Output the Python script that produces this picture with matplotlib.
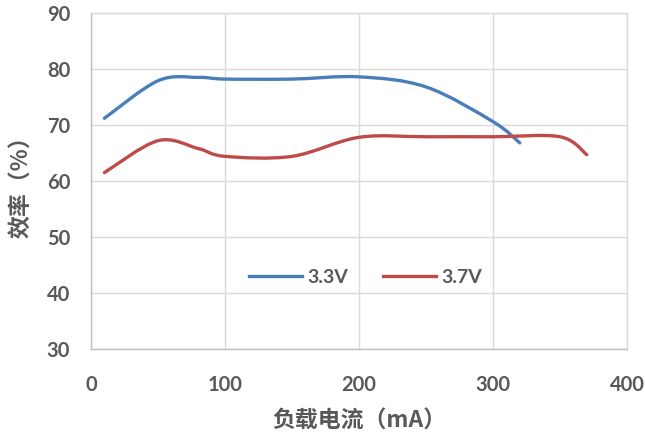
import numpy as np
import matplotlib
matplotlib.use("Agg")
import matplotlib.pyplot as plt
from matplotlib.path import Path
from matplotlib.patches import PathPatch
from matplotlib.lines import Line2D

plt.rcParams['font.family'] = ['Lato', 'Noto Sans CJK SC', 'DejaVu Sans']

# data
x_33 = [10, 50, 80, 100, 150, 200, 250, 300, 320]
y_33 = [71.2, 77.9, 78.5, 78.2, 78.2, 78.6, 76.8, 70.6, 66.8]
x_37 = [10, 50, 80, 100, 150, 200, 250, 300, 350, 370]
y_37 = [61.5, 67.2, 65.8, 64.4, 64.4, 67.8, 67.9, 67.9, 67.9, 64.7]
series_labels = ["3.3V", "3.7V"]
x_ticks = [0, 100, 200, 300, 400]
y_ticks = [30, 40, 50, 60, 70, 80, 90]
x_label = "负载电流（mA）"
y_label = "效率（%）"

blue = "#4A7EBB"
red = "#BE4B48"
txt = "#595959"

def smooth_path(xs, ys):
    p = np.column_stack([xs, ys]).astype(float)
    n = len(p)
    verts = [tuple(p[0])]
    codes = [Path.MOVETO]
    for i in range(n - 1):
        p0 = p[i - 1] if i > 0 else p[i]
        p1 = p[i]
        p2 = p[i + 1]
        p3 = p[i + 2] if i + 2 < n else p[i + 1]
        c1 = p1 + (p2 - p0) / 6.0
        c2 = p2 - (p3 - p1) / 6.0
        verts += [tuple(c1), tuple(c2), tuple(p2)]
        codes += [Path.CURVE4] * 3
    return Path(verts, codes)

fig = plt.figure(figsize=(6.45, 4.37), dpi=100)
ax = fig.add_axes([91/645, 1 - 349/437, (627-91)/645, (349-13)/437])

for xs, ys, c in [(x_33, y_33, blue), (x_37, y_37, red)]:
    patch = PathPatch(smooth_path(xs, ys), facecolor='none', edgecolor=c,
                      lw=2.4, capstyle='round', joinstyle='round', zorder=3)
    ax.add_patch(patch)

ax.set_xlim(0, 400)
ax.set_ylim(30, 90)
ax.set_xticks(x_ticks)
ax.set_yticks(y_ticks)
ax.grid(True, color="#D9D9D9", lw=1.0)
ax.set_axisbelow(True)
for s in ax.spines.values():
    s.set_color("#D9D9D9")
    s.set_linewidth(1.0)
ax.spines['bottom'].set_color("#BFBFBF")
ax.spines['left'].set_color("#BFBFBF")
ax.tick_params(length=0, labelsize=14.5, labelcolor=txt)
ax.tick_params(axis='y', pad=15)
ax.tick_params(axis='x', pad=19)
for lab in ax.get_xticklabels() + ax.get_yticklabels():
    lab.set_fontweight('bold')

ax.set_xlabel(x_label, fontsize=16.5, fontweight='bold', color=txt,
              family=['Noto Sans CJK SC', 'DejaVu Sans'], labelpad=10)
ax.set_ylabel(y_label, fontsize=16.5, fontweight='bold', color=txt,
              family=['Noto Sans CJK SC', 'DejaVu Sans'], labelpad=10)

handles = [Line2D([], [], color=blue, lw=2.4), Line2D([], [], color=red, lw=2.4)]
leg = ax.legend(handles, series_labels, loc='center', bbox_to_anchor=(0.513, 0.214),
                ncol=2, frameon=False, handlelength=2.7, handletextpad=0.3,
                columnspacing=1.8, prop={'size': 14, 'weight': 'bold'})
for t in leg.get_texts():
    t.set_color(txt)

fig.savefig("out.png", dpi=100)
